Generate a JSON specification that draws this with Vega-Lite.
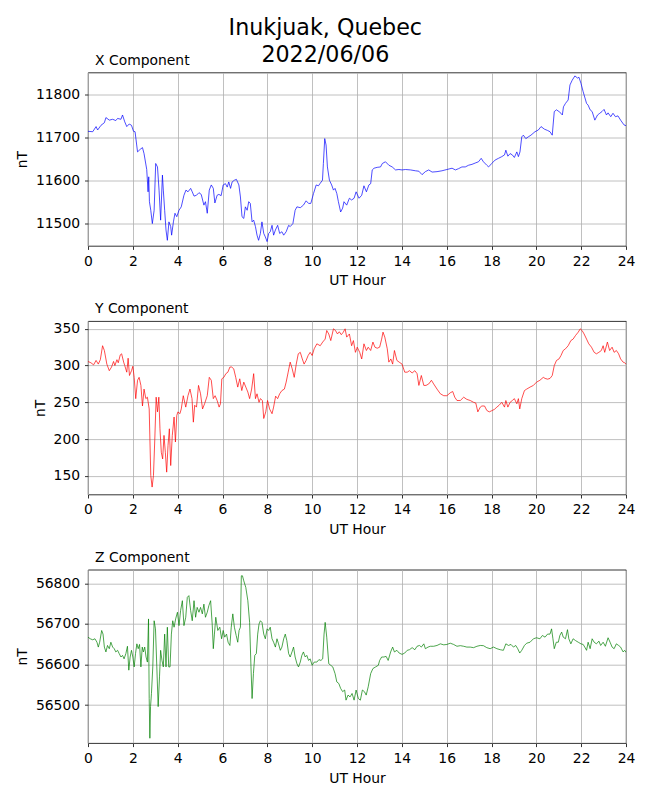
{
  "$schema": "https://vega.github.io/schema/vega-lite/v6.json",
  "description": "Inukjuak magnetometer X, Y, Z components for 2022/06/06.",
  "padding": {"left": 15, "top": 16.5, "right": 5, "bottom": 5},
  "bounds": "flush",
  "spacing": 74.6,
  "title": {
    "text": ["Inukjuak, Quebec", "2022/06/06"],
    "fontSize": 22.2,
    "fontWeight": "normal",
    "lineHeight": 26.7,
    "anchor": "middle",
    "frame": "bounds",
    "dx": 0,
    "offset": -13
  },
  "datasets": {
    "x": [
      {"h": 0, "v": 11714}, {"h": 0.21, "v": 11713}, {"h": 0.36, "v": 11725}, {"h": 0.43, "v": 11717},
      {"h": 0.58, "v": 11728}, {"h": 0.73, "v": 11734}, {"h": 0.8, "v": 11746}, {"h": 0.95, "v": 11740},
      {"h": 1.1, "v": 11742}, {"h": 1.24, "v": 11739}, {"h": 1.32, "v": 11744}, {"h": 1.47, "v": 11742},
      {"h": 1.54, "v": 11752}, {"h": 1.64, "v": 11736}, {"h": 1.73, "v": 11725}, {"h": 1.84, "v": 11731},
      {"h": 1.94, "v": 11728}, {"h": 2.03, "v": 11714}, {"h": 2.1, "v": 11713}, {"h": 2.21, "v": 11666},
      {"h": 2.33, "v": 11672}, {"h": 2.43, "v": 11676}, {"h": 2.5, "v": 11662}, {"h": 2.62, "v": 11625},
      {"h": 2.68, "v": 11573}, {"h": 2.71, "v": 11608}, {"h": 2.74, "v": 11550}, {"h": 2.8, "v": 11530},
      {"h": 2.87, "v": 11499}, {"h": 2.95, "v": 11530}, {"h": 3.02, "v": 11639}, {"h": 3.1, "v": 11631},
      {"h": 3.17, "v": 11577}, {"h": 3.24, "v": 11507}, {"h": 3.32, "v": 11612}, {"h": 3.36, "v": 11577},
      {"h": 3.42, "v": 11530}, {"h": 3.48, "v": 11484}, {"h": 3.54, "v": 11460}, {"h": 3.61, "v": 11503},
      {"h": 3.69, "v": 11492}, {"h": 3.73, "v": 11472}, {"h": 3.81, "v": 11503}, {"h": 3.88, "v": 11523},
      {"h": 3.96, "v": 11515}, {"h": 4.06, "v": 11530}, {"h": 4.16, "v": 11538}, {"h": 4.28, "v": 11565},
      {"h": 4.37, "v": 11577}, {"h": 4.46, "v": 11573}, {"h": 4.58, "v": 11581}, {"h": 4.65, "v": 11573},
      {"h": 4.73, "v": 11563}, {"h": 4.84, "v": 11565}, {"h": 4.95, "v": 11571}, {"h": 5.05, "v": 11567},
      {"h": 5.17, "v": 11542}, {"h": 5.24, "v": 11550}, {"h": 5.32, "v": 11523}, {"h": 5.41, "v": 11577},
      {"h": 5.5, "v": 11589}, {"h": 5.59, "v": 11581}, {"h": 5.66, "v": 11547}, {"h": 5.76, "v": 11565},
      {"h": 5.84, "v": 11567}, {"h": 5.94, "v": 11564}, {"h": 6.03, "v": 11589}, {"h": 6.13, "v": 11592},
      {"h": 6.21, "v": 11584}, {"h": 6.28, "v": 11596}, {"h": 6.36, "v": 11581}, {"h": 6.43, "v": 11596},
      {"h": 6.53, "v": 11600}, {"h": 6.62, "v": 11602}, {"h": 6.73, "v": 11589}, {"h": 6.8, "v": 11561},
      {"h": 6.87, "v": 11515}, {"h": 6.95, "v": 11511}, {"h": 7.02, "v": 11538}, {"h": 7.1, "v": 11530},
      {"h": 7.17, "v": 11550}, {"h": 7.24, "v": 11546}, {"h": 7.32, "v": 11503}, {"h": 7.39, "v": 11507},
      {"h": 7.47, "v": 11492}, {"h": 7.54, "v": 11472}, {"h": 7.61, "v": 11460}, {"h": 7.69, "v": 11476},
      {"h": 7.76, "v": 11503}, {"h": 7.84, "v": 11476}, {"h": 7.91, "v": 11468}, {"h": 7.99, "v": 11457},
      {"h": 8.06, "v": 11476}, {"h": 8.13, "v": 11480}, {"h": 8.21, "v": 11495}, {"h": 8.28, "v": 11472},
      {"h": 8.36, "v": 11484}, {"h": 8.46, "v": 11495}, {"h": 8.55, "v": 11476}, {"h": 8.65, "v": 11480},
      {"h": 8.73, "v": 11472}, {"h": 8.84, "v": 11480}, {"h": 8.95, "v": 11495}, {"h": 9.02, "v": 11492},
      {"h": 9.14, "v": 11499}, {"h": 9.24, "v": 11530}, {"h": 9.32, "v": 11538}, {"h": 9.47, "v": 11536},
      {"h": 9.61, "v": 11542}, {"h": 9.73, "v": 11552}, {"h": 9.84, "v": 11546}, {"h": 9.94, "v": 11546},
      {"h": 10.06, "v": 11569}, {"h": 10.18, "v": 11589}, {"h": 10.28, "v": 11587}, {"h": 10.36, "v": 11593},
      {"h": 10.46, "v": 11600}, {"h": 10.5, "v": 11639}, {"h": 10.56, "v": 11697}, {"h": 10.62, "v": 11682},
      {"h": 10.68, "v": 11631}, {"h": 10.77, "v": 11600}, {"h": 10.87, "v": 11589}, {"h": 10.95, "v": 11577},
      {"h": 11.02, "v": 11581}, {"h": 11.1, "v": 11569}, {"h": 11.17, "v": 11550}, {"h": 11.27, "v": 11526},
      {"h": 11.36, "v": 11535}, {"h": 11.42, "v": 11550}, {"h": 11.54, "v": 11542}, {"h": 11.66, "v": 11558},
      {"h": 11.76, "v": 11554}, {"h": 11.87, "v": 11558}, {"h": 11.96, "v": 11573}, {"h": 12.09, "v": 11558},
      {"h": 12.21, "v": 11565}, {"h": 12.31, "v": 11587}, {"h": 12.42, "v": 11573}, {"h": 12.53, "v": 11589},
      {"h": 12.61, "v": 11592}, {"h": 12.68, "v": 11624}, {"h": 12.76, "v": 11628}, {"h": 12.9, "v": 11630},
      {"h": 13.05, "v": 11631}, {"h": 13.13, "v": 11639}, {"h": 13.27, "v": 11643}, {"h": 13.42, "v": 11635},
      {"h": 13.57, "v": 11631}, {"h": 13.72, "v": 11624}, {"h": 13.87, "v": 11625}, {"h": 14.01, "v": 11624},
      {"h": 14.16, "v": 11625}, {"h": 14.39, "v": 11624}, {"h": 14.61, "v": 11622}, {"h": 14.76, "v": 11621},
      {"h": 14.9, "v": 11613}, {"h": 15.05, "v": 11620}, {"h": 15.2, "v": 11624}, {"h": 15.35, "v": 11619},
      {"h": 15.57, "v": 11620}, {"h": 15.79, "v": 11622}, {"h": 16.01, "v": 11625}, {"h": 16.24, "v": 11628},
      {"h": 16.39, "v": 11624}, {"h": 16.53, "v": 11627}, {"h": 16.68, "v": 11631}, {"h": 16.83, "v": 11631},
      {"h": 16.98, "v": 11635}, {"h": 17.13, "v": 11637}, {"h": 17.27, "v": 11640}, {"h": 17.42, "v": 11643},
      {"h": 17.54, "v": 11651}, {"h": 17.64, "v": 11643}, {"h": 17.79, "v": 11635}, {"h": 17.87, "v": 11631},
      {"h": 18.01, "v": 11639}, {"h": 18.16, "v": 11647}, {"h": 18.31, "v": 11651}, {"h": 18.46, "v": 11655},
      {"h": 18.58, "v": 11659}, {"h": 18.64, "v": 11670}, {"h": 18.73, "v": 11656}, {"h": 18.83, "v": 11662},
      {"h": 18.93, "v": 11659}, {"h": 19.02, "v": 11653}, {"h": 19.13, "v": 11666}, {"h": 19.2, "v": 11655},
      {"h": 19.27, "v": 11666}, {"h": 19.35, "v": 11701}, {"h": 19.42, "v": 11705}, {"h": 19.53, "v": 11697},
      {"h": 19.64, "v": 11701}, {"h": 19.76, "v": 11705}, {"h": 19.94, "v": 11713}, {"h": 20.09, "v": 11717},
      {"h": 20.21, "v": 11725}, {"h": 20.36, "v": 11719}, {"h": 20.5, "v": 11716}, {"h": 20.61, "v": 11713},
      {"h": 20.71, "v": 11705}, {"h": 20.8, "v": 11760}, {"h": 20.9, "v": 11764}, {"h": 21.01, "v": 11760},
      {"h": 21.1, "v": 11756}, {"h": 21.16, "v": 11752}, {"h": 21.21, "v": 11771}, {"h": 21.3, "v": 11779},
      {"h": 21.42, "v": 11787}, {"h": 21.5, "v": 11822}, {"h": 21.6, "v": 11833}, {"h": 21.72, "v": 11843},
      {"h": 21.84, "v": 11838}, {"h": 21.9, "v": 11840}, {"h": 21.99, "v": 11826}, {"h": 22.09, "v": 11806},
      {"h": 22.24, "v": 11779}, {"h": 22.31, "v": 11775}, {"h": 22.4, "v": 11764}, {"h": 22.49, "v": 11760},
      {"h": 22.61, "v": 11740}, {"h": 22.73, "v": 11752}, {"h": 22.83, "v": 11756}, {"h": 22.93, "v": 11760},
      {"h": 23.02, "v": 11765}, {"h": 23.13, "v": 11752}, {"h": 23.2, "v": 11757}, {"h": 23.32, "v": 11748},
      {"h": 23.42, "v": 11756}, {"h": 23.53, "v": 11748}, {"h": 23.64, "v": 11750}, {"h": 23.76, "v": 11740},
      {"h": 23.91, "v": 11729}, {"h": 24, "v": 11727}
    ],
    "y": [
      {"h": 0, "v": 305.6}, {"h": 0.13, "v": 303.8}, {"h": 0.25, "v": 301}, {"h": 0.36, "v": 307},
      {"h": 0.46, "v": 302}, {"h": 0.55, "v": 308}, {"h": 0.65, "v": 327}, {"h": 0.73, "v": 320.5},
      {"h": 0.84, "v": 302}, {"h": 0.95, "v": 293}, {"h": 1.05, "v": 298}, {"h": 1.14, "v": 305.6},
      {"h": 1.2, "v": 300}, {"h": 1.29, "v": 308}, {"h": 1.35, "v": 303.8}, {"h": 1.44, "v": 314.6},
      {"h": 1.5, "v": 316}, {"h": 1.59, "v": 304.7}, {"h": 1.64, "v": 300}, {"h": 1.73, "v": 291},
      {"h": 1.79, "v": 310}, {"h": 1.85, "v": 286.5}, {"h": 1.94, "v": 293}, {"h": 2.0, "v": 299},
      {"h": 2.06, "v": 284}, {"h": 2.13, "v": 255}, {"h": 2.21, "v": 280}, {"h": 2.28, "v": 284},
      {"h": 2.36, "v": 273}, {"h": 2.43, "v": 245}, {"h": 2.5, "v": 268}, {"h": 2.58, "v": 255},
      {"h": 2.65, "v": 257}, {"h": 2.73, "v": 241}, {"h": 2.8, "v": 150.5}, {"h": 2.86, "v": 134.7},
      {"h": 2.92, "v": 150.5}, {"h": 2.98, "v": 200}, {"h": 3.04, "v": 257}, {"h": 3.1, "v": 237},
      {"h": 3.16, "v": 257}, {"h": 3.21, "v": 214}, {"h": 3.27, "v": 182}, {"h": 3.33, "v": 173},
      {"h": 3.39, "v": 205}, {"h": 3.45, "v": 182}, {"h": 3.51, "v": 155}, {"h": 3.57, "v": 191.5},
      {"h": 3.63, "v": 214}, {"h": 3.69, "v": 164}, {"h": 3.76, "v": 205}, {"h": 3.84, "v": 230},
      {"h": 3.9, "v": 196}, {"h": 3.96, "v": 232}, {"h": 4.01, "v": 237}, {"h": 4.1, "v": 234.5},
      {"h": 4.16, "v": 241}, {"h": 4.25, "v": 259}, {"h": 4.36, "v": 243.5}, {"h": 4.46, "v": 259},
      {"h": 4.55, "v": 268}, {"h": 4.64, "v": 255}, {"h": 4.7, "v": 223}, {"h": 4.76, "v": 246},
      {"h": 4.84, "v": 243.5}, {"h": 4.93, "v": 273}, {"h": 5.02, "v": 261.6}, {"h": 5.11, "v": 241},
      {"h": 5.2, "v": 248}, {"h": 5.32, "v": 259}, {"h": 5.41, "v": 284}, {"h": 5.5, "v": 280},
      {"h": 5.59, "v": 255}, {"h": 5.67, "v": 259}, {"h": 5.76, "v": 252.5}, {"h": 5.85, "v": 243.5},
      {"h": 5.91, "v": 248}, {"h": 5.97, "v": 282}, {"h": 6.06, "v": 284}, {"h": 6.15, "v": 289},
      {"h": 6.24, "v": 291}, {"h": 6.33, "v": 298}, {"h": 6.41, "v": 298}, {"h": 6.5, "v": 295.6},
      {"h": 6.59, "v": 284}, {"h": 6.68, "v": 270.7}, {"h": 6.77, "v": 282}, {"h": 6.86, "v": 266},
      {"h": 6.95, "v": 277.5}, {"h": 7.04, "v": 270.7}, {"h": 7.13, "v": 264}, {"h": 7.21, "v": 255},
      {"h": 7.3, "v": 268}, {"h": 7.39, "v": 289}, {"h": 7.47, "v": 255}, {"h": 7.54, "v": 261.6},
      {"h": 7.63, "v": 250}, {"h": 7.69, "v": 255}, {"h": 7.78, "v": 252.5}, {"h": 7.84, "v": 228},
      {"h": 7.93, "v": 237}, {"h": 8.01, "v": 252.5}, {"h": 8.1, "v": 241}, {"h": 8.21, "v": 234.5},
      {"h": 8.28, "v": 243.5}, {"h": 8.37, "v": 258.4}, {"h": 8.46, "v": 255}, {"h": 8.55, "v": 261.6},
      {"h": 8.65, "v": 266}, {"h": 8.76, "v": 268}, {"h": 8.84, "v": 277.5}, {"h": 8.93, "v": 291},
      {"h": 9.02, "v": 304.7}, {"h": 9.11, "v": 295.6}, {"h": 9.2, "v": 284}, {"h": 9.29, "v": 302},
      {"h": 9.38, "v": 316}, {"h": 9.47, "v": 318}, {"h": 9.56, "v": 309}, {"h": 9.64, "v": 302},
      {"h": 9.73, "v": 307}, {"h": 9.82, "v": 313.7}, {"h": 9.91, "v": 318}, {"h": 10.0, "v": 313.7},
      {"h": 10.09, "v": 322.8}, {"h": 10.21, "v": 329.6}, {"h": 10.36, "v": 327}, {"h": 10.47, "v": 332},
      {"h": 10.58, "v": 336}, {"h": 10.65, "v": 347.7}, {"h": 10.74, "v": 343}, {"h": 10.83, "v": 334},
      {"h": 10.95, "v": 350}, {"h": 11.04, "v": 347.7}, {"h": 11.13, "v": 343}, {"h": 11.21, "v": 346},
      {"h": 11.3, "v": 342}, {"h": 11.39, "v": 345.5}, {"h": 11.47, "v": 350}, {"h": 11.54, "v": 338.7},
      {"h": 11.66, "v": 343}, {"h": 11.76, "v": 327}, {"h": 11.84, "v": 334}, {"h": 11.93, "v": 318},
      {"h": 11.99, "v": 322.8}, {"h": 12.01, "v": 325}, {"h": 12.12, "v": 318}, {"h": 12.21, "v": 309},
      {"h": 12.31, "v": 329.6}, {"h": 12.42, "v": 320.5}, {"h": 12.5, "v": 325}, {"h": 12.61, "v": 320.5},
      {"h": 12.71, "v": 332}, {"h": 12.8, "v": 325}, {"h": 12.9, "v": 323.6}, {"h": 13.01, "v": 325},
      {"h": 13.1, "v": 336}, {"h": 13.16, "v": 345.5}, {"h": 13.24, "v": 338.7}, {"h": 13.35, "v": 322.8},
      {"h": 13.42, "v": 304.7}, {"h": 13.51, "v": 309}, {"h": 13.59, "v": 302}, {"h": 13.67, "v": 320.5},
      {"h": 13.78, "v": 307}, {"h": 13.88, "v": 304.7}, {"h": 14.01, "v": 302}, {"h": 14.13, "v": 291},
      {"h": 14.24, "v": 291}, {"h": 14.34, "v": 293}, {"h": 14.46, "v": 290}, {"h": 14.58, "v": 293},
      {"h": 14.68, "v": 289}, {"h": 14.76, "v": 273}, {"h": 14.87, "v": 286.5}, {"h": 14.98, "v": 273},
      {"h": 15.08, "v": 273}, {"h": 15.2, "v": 275}, {"h": 15.32, "v": 280}, {"h": 15.42, "v": 275},
      {"h": 15.57, "v": 268}, {"h": 15.72, "v": 261.6}, {"h": 15.87, "v": 259}, {"h": 16.01, "v": 259},
      {"h": 16.16, "v": 263}, {"h": 16.27, "v": 264.7}, {"h": 16.36, "v": 257}, {"h": 16.46, "v": 252.5},
      {"h": 16.61, "v": 252.5}, {"h": 16.76, "v": 257}, {"h": 16.9, "v": 254}, {"h": 17.05, "v": 252.5},
      {"h": 17.2, "v": 250}, {"h": 17.3, "v": 249}, {"h": 17.39, "v": 237}, {"h": 17.5, "v": 243.5},
      {"h": 17.57, "v": 245}, {"h": 17.69, "v": 245}, {"h": 17.79, "v": 239}, {"h": 17.9, "v": 237},
      {"h": 18.01, "v": 238.6}, {"h": 18.13, "v": 240.4}, {"h": 18.24, "v": 243.5}, {"h": 18.34, "v": 246},
      {"h": 18.46, "v": 250}, {"h": 18.58, "v": 243.5}, {"h": 18.64, "v": 252.5}, {"h": 18.73, "v": 243.5},
      {"h": 18.83, "v": 250}, {"h": 18.93, "v": 252.5}, {"h": 19.02, "v": 255}, {"h": 19.13, "v": 248},
      {"h": 19.2, "v": 255}, {"h": 19.26, "v": 241}, {"h": 19.35, "v": 255}, {"h": 19.47, "v": 266},
      {"h": 19.57, "v": 268}, {"h": 19.72, "v": 270.7}, {"h": 19.87, "v": 273}, {"h": 20.01, "v": 277.5},
      {"h": 20.16, "v": 280}, {"h": 20.31, "v": 284}, {"h": 20.39, "v": 282.5}, {"h": 20.5, "v": 281.5},
      {"h": 20.61, "v": 282.5}, {"h": 20.71, "v": 286.5}, {"h": 20.8, "v": 300}, {"h": 20.9, "v": 307},
      {"h": 21.01, "v": 309}, {"h": 21.1, "v": 313.7}, {"h": 21.2, "v": 320.5}, {"h": 21.3, "v": 322.8},
      {"h": 21.42, "v": 327}, {"h": 21.54, "v": 334}, {"h": 21.64, "v": 336}, {"h": 21.75, "v": 341},
      {"h": 21.87, "v": 345.5}, {"h": 21.96, "v": 350}, {"h": 22.04, "v": 347.7}, {"h": 22.13, "v": 343},
      {"h": 22.24, "v": 336}, {"h": 22.34, "v": 329.6}, {"h": 22.46, "v": 325}, {"h": 22.58, "v": 318},
      {"h": 22.68, "v": 316}, {"h": 22.79, "v": 318}, {"h": 22.9, "v": 320.5}, {"h": 22.98, "v": 327},
      {"h": 23.05, "v": 318}, {"h": 23.17, "v": 332}, {"h": 23.27, "v": 320.5}, {"h": 23.38, "v": 325},
      {"h": 23.47, "v": 318}, {"h": 23.57, "v": 320.5}, {"h": 23.67, "v": 316}, {"h": 23.76, "v": 309},
      {"h": 23.87, "v": 304.7}, {"h": 23.94, "v": 303.8}, {"h": 24, "v": 302}
    ],
    "z": [
      {"h": 0, "v": 56667.5}, {"h": 0.1, "v": 56663.5}, {"h": 0.21, "v": 56661}, {"h": 0.31, "v": 56663.5},
      {"h": 0.4, "v": 56655}, {"h": 0.46, "v": 56643}, {"h": 0.52, "v": 56655}, {"h": 0.61, "v": 56684},
      {"h": 0.67, "v": 56675}, {"h": 0.73, "v": 56643}, {"h": 0.8, "v": 56631}, {"h": 0.87, "v": 56647},
      {"h": 0.95, "v": 56639}, {"h": 1.02, "v": 56655}, {"h": 1.1, "v": 56643}, {"h": 1.17, "v": 56639},
      {"h": 1.24, "v": 56631}, {"h": 1.32, "v": 56635}, {"h": 1.39, "v": 56627}, {"h": 1.47, "v": 56618.5},
      {"h": 1.54, "v": 56622.5}, {"h": 1.61, "v": 56614}, {"h": 1.69, "v": 56627}, {"h": 1.76, "v": 56645},
      {"h": 1.82, "v": 56586}, {"h": 1.88, "v": 56618.5}, {"h": 1.94, "v": 56635}, {"h": 2.0, "v": 56618.5},
      {"h": 2.06, "v": 56594}, {"h": 2.12, "v": 56627}, {"h": 2.18, "v": 56651}, {"h": 2.24, "v": 56639},
      {"h": 2.3, "v": 56649.5}, {"h": 2.36, "v": 56594}, {"h": 2.42, "v": 56643}, {"h": 2.47, "v": 56631},
      {"h": 2.53, "v": 56643}, {"h": 2.59, "v": 56618.5}, {"h": 2.65, "v": 56606}, {"h": 2.7, "v": 56712.5},
      {"h": 2.73, "v": 56516}, {"h": 2.76, "v": 56418}, {"h": 2.79, "v": 56496}, {"h": 2.83, "v": 56528},
      {"h": 2.89, "v": 56594}, {"h": 2.95, "v": 56708}, {"h": 3.01, "v": 56688}, {"h": 3.07, "v": 56594},
      {"h": 3.13, "v": 56496}, {"h": 3.19, "v": 56569.5}, {"h": 3.24, "v": 56635}, {"h": 3.3, "v": 56610},
      {"h": 3.36, "v": 56594}, {"h": 3.42, "v": 56675}, {"h": 3.48, "v": 56594}, {"h": 3.54, "v": 56692},
      {"h": 3.6, "v": 56594}, {"h": 3.66, "v": 56594}, {"h": 3.72, "v": 56675}, {"h": 3.78, "v": 56708},
      {"h": 3.84, "v": 56692}, {"h": 3.91, "v": 56712.5}, {"h": 3.99, "v": 56729}, {"h": 4.06, "v": 56696},
      {"h": 4.13, "v": 56733}, {"h": 4.21, "v": 56757.5}, {"h": 4.28, "v": 56696}, {"h": 4.36, "v": 56716.6},
      {"h": 4.43, "v": 56765.7}, {"h": 4.5, "v": 56770}, {"h": 4.58, "v": 56733}, {"h": 4.65, "v": 56708},
      {"h": 4.73, "v": 56757.5}, {"h": 4.8, "v": 56716.6}, {"h": 4.87, "v": 56741}, {"h": 4.95, "v": 56729},
      {"h": 5.02, "v": 56741}, {"h": 5.1, "v": 56725}, {"h": 5.17, "v": 56749}, {"h": 5.24, "v": 56716.6},
      {"h": 5.32, "v": 56729}, {"h": 5.39, "v": 56745}, {"h": 5.47, "v": 56757.5}, {"h": 5.54, "v": 56700},
      {"h": 5.59, "v": 56639}, {"h": 5.64, "v": 56675}, {"h": 5.7, "v": 56716.6}, {"h": 5.79, "v": 56684},
      {"h": 5.88, "v": 56692}, {"h": 5.96, "v": 56663.5}, {"h": 6.03, "v": 56684}, {"h": 6.1, "v": 56667.5},
      {"h": 6.18, "v": 56675}, {"h": 6.25, "v": 56655}, {"h": 6.33, "v": 56647}, {"h": 6.39, "v": 56692},
      {"h": 6.46, "v": 56725}, {"h": 6.53, "v": 56692}, {"h": 6.61, "v": 56671.6}, {"h": 6.68, "v": 56655},
      {"h": 6.74, "v": 56684}, {"h": 6.8, "v": 56692}, {"h": 6.84, "v": 56819}, {"h": 6.89, "v": 56819},
      {"h": 6.95, "v": 56806.5}, {"h": 7.04, "v": 56790}, {"h": 7.13, "v": 56757.5}, {"h": 7.21, "v": 56704},
      {"h": 7.27, "v": 56594}, {"h": 7.32, "v": 56516}, {"h": 7.38, "v": 56577.6}, {"h": 7.44, "v": 56622.5},
      {"h": 7.51, "v": 56627}, {"h": 7.57, "v": 56675}, {"h": 7.63, "v": 56700}, {"h": 7.69, "v": 56708},
      {"h": 7.76, "v": 56704}, {"h": 7.84, "v": 56675}, {"h": 7.91, "v": 56663.5}, {"h": 7.99, "v": 56688},
      {"h": 8.06, "v": 56684}, {"h": 8.13, "v": 56692}, {"h": 8.21, "v": 56663.5}, {"h": 8.28, "v": 56655},
      {"h": 8.36, "v": 56643}, {"h": 8.43, "v": 56663.5}, {"h": 8.5, "v": 56651}, {"h": 8.58, "v": 56635},
      {"h": 8.65, "v": 56643}, {"h": 8.73, "v": 56663.5}, {"h": 8.8, "v": 56675}, {"h": 8.87, "v": 56659},
      {"h": 8.95, "v": 56627}, {"h": 9.02, "v": 56618.5}, {"h": 9.1, "v": 56631}, {"h": 9.17, "v": 56643},
      {"h": 9.24, "v": 56618.5}, {"h": 9.32, "v": 56602}, {"h": 9.39, "v": 56594}, {"h": 9.47, "v": 56606},
      {"h": 9.54, "v": 56622.5}, {"h": 9.61, "v": 56631}, {"h": 9.69, "v": 56618.5}, {"h": 9.76, "v": 56622.5},
      {"h": 9.84, "v": 56610}, {"h": 9.91, "v": 56614}, {"h": 10.0, "v": 56598}, {"h": 10.09, "v": 56606},
      {"h": 10.21, "v": 56606}, {"h": 10.3, "v": 56612}, {"h": 10.39, "v": 56610}, {"h": 10.47, "v": 56614},
      {"h": 10.53, "v": 56675}, {"h": 10.58, "v": 56704}, {"h": 10.65, "v": 56667.5}, {"h": 10.74, "v": 56602},
      {"h": 10.83, "v": 56598}, {"h": 10.92, "v": 56594}, {"h": 11.02, "v": 56577.6}, {"h": 11.1, "v": 56557},
      {"h": 11.19, "v": 56553}, {"h": 11.27, "v": 56541}, {"h": 11.36, "v": 56533}, {"h": 11.45, "v": 56537},
      {"h": 11.51, "v": 56512}, {"h": 11.6, "v": 56524.5}, {"h": 11.69, "v": 56520}, {"h": 11.78, "v": 56528.5},
      {"h": 11.87, "v": 56512}, {"h": 11.96, "v": 56537}, {"h": 12.06, "v": 56516}, {"h": 12.15, "v": 56512},
      {"h": 12.24, "v": 56537}, {"h": 12.33, "v": 56533}, {"h": 12.41, "v": 56524.5}, {"h": 12.5, "v": 56545},
      {"h": 12.61, "v": 56577.6}, {"h": 12.71, "v": 56590}, {"h": 12.83, "v": 56594}, {"h": 12.95, "v": 56598},
      {"h": 13.01, "v": 56610}, {"h": 13.1, "v": 56618.5}, {"h": 13.2, "v": 56618.5}, {"h": 13.3, "v": 56620},
      {"h": 13.39, "v": 56610}, {"h": 13.5, "v": 56631}, {"h": 13.59, "v": 56643}, {"h": 13.67, "v": 56631},
      {"h": 13.78, "v": 56635}, {"h": 13.88, "v": 56628.3}, {"h": 14.01, "v": 56625}, {"h": 14.13, "v": 56628.3},
      {"h": 14.24, "v": 56635}, {"h": 14.34, "v": 56636.5}, {"h": 14.46, "v": 56641.6}, {"h": 14.58, "v": 56636.5},
      {"h": 14.68, "v": 56645}, {"h": 14.79, "v": 56647}, {"h": 14.87, "v": 56643}, {"h": 14.98, "v": 56651},
      {"h": 15.05, "v": 56639}, {"h": 15.17, "v": 56643}, {"h": 15.27, "v": 56645}, {"h": 15.42, "v": 56645},
      {"h": 15.57, "v": 56647}, {"h": 15.72, "v": 56651}, {"h": 15.87, "v": 56648.5}, {"h": 16.01, "v": 56649.5},
      {"h": 16.16, "v": 56652.6}, {"h": 16.31, "v": 56649.5}, {"h": 16.46, "v": 56645}, {"h": 16.61, "v": 56646.5},
      {"h": 16.76, "v": 56645}, {"h": 16.9, "v": 56643}, {"h": 17.05, "v": 56643}, {"h": 17.2, "v": 56641.6},
      {"h": 17.35, "v": 56645}, {"h": 17.5, "v": 56647}, {"h": 17.64, "v": 56646.5}, {"h": 17.79, "v": 56641.6},
      {"h": 17.94, "v": 56639}, {"h": 18.09, "v": 56643}, {"h": 18.24, "v": 56639}, {"h": 18.39, "v": 56636.5},
      {"h": 18.53, "v": 56635}, {"h": 18.64, "v": 56651}, {"h": 18.76, "v": 56647}, {"h": 18.87, "v": 56649.5},
      {"h": 18.98, "v": 56643}, {"h": 19.08, "v": 56647}, {"h": 19.17, "v": 56639}, {"h": 19.26, "v": 56628.3},
      {"h": 19.35, "v": 56635}, {"h": 19.47, "v": 56647}, {"h": 19.57, "v": 56652.6}, {"h": 19.72, "v": 56655},
      {"h": 19.87, "v": 56663.5}, {"h": 20.01, "v": 56666}, {"h": 20.16, "v": 56663.5}, {"h": 20.27, "v": 56671.6},
      {"h": 20.39, "v": 56667.5}, {"h": 20.5, "v": 56675}, {"h": 20.61, "v": 56675}, {"h": 20.68, "v": 56688},
      {"h": 20.74, "v": 56663.5}, {"h": 20.8, "v": 56639}, {"h": 20.89, "v": 56655}, {"h": 20.98, "v": 56655},
      {"h": 21.05, "v": 56671.6}, {"h": 21.13, "v": 56680}, {"h": 21.2, "v": 56667.5}, {"h": 21.3, "v": 56663.5},
      {"h": 21.39, "v": 56686}, {"h": 21.45, "v": 56663.5}, {"h": 21.54, "v": 56651}, {"h": 21.64, "v": 56663.5},
      {"h": 21.75, "v": 56659}, {"h": 21.87, "v": 56655}, {"h": 21.99, "v": 56651}, {"h": 22.09, "v": 56649.5},
      {"h": 22.16, "v": 56643}, {"h": 22.24, "v": 56635}, {"h": 22.31, "v": 56655}, {"h": 22.4, "v": 56639},
      {"h": 22.49, "v": 56663.5}, {"h": 22.58, "v": 56655}, {"h": 22.68, "v": 56651}, {"h": 22.79, "v": 56657.7},
      {"h": 22.87, "v": 56647}, {"h": 22.98, "v": 56655}, {"h": 23.08, "v": 56645}, {"h": 23.2, "v": 56666},
      {"h": 23.29, "v": 56655}, {"h": 23.38, "v": 56643}, {"h": 23.47, "v": 56639}, {"h": 23.57, "v": 56651},
      {"h": 23.67, "v": 56647}, {"h": 23.76, "v": 56643}, {"h": 23.87, "v": 56631}, {"h": 23.94, "v": 56635},
      {"h": 24, "v": 56630}
    ]
  },
  "vconcat": [
    {
      "width": 538,
      "height": 173.4,
      "title": {"text": "X Component"},
      "data": {"name": "x"},
      "mark": {"type": "line", "color": "#0000ff", "strokeWidth": 0.7, "clip": true},
      "encoding": {
        "x": {"field": "h", "type": "quantitative", "title": "UT Hour",
              "scale": {"domain": [0, 24], "nice": false, "zero": false}},
        "y": {"field": "v", "type": "quantitative", "title": "nT",
              "scale": {"domain": [11447, 11851], "nice": false, "zero": false},
              "axis": {"values": [11500, 11600, 11700, 11800]}}
      }
    },
    {
      "width": 538,
      "height": 173.4,
      "title": {"text": "Y Component"},
      "data": {"name": "y"},
      "mark": {"type": "line", "color": "#ff0000", "strokeWidth": 0.7, "clip": true},
      "encoding": {
        "x": {"field": "h", "type": "quantitative", "title": "UT Hour",
              "scale": {"domain": [0, 24], "nice": false, "zero": false}},
        "y": {"field": "v", "type": "quantitative", "title": "nT",
              "scale": {"domain": [124.6, 360.5], "nice": false, "zero": false},
              "axis": {"values": [150, 200, 250, 300, 350]}}
      }
    },
    {
      "width": 538,
      "height": 173.4,
      "title": {"text": "Z Component"},
      "data": {"name": "z"},
      "mark": {"type": "line", "color": "#008000", "strokeWidth": 0.7, "clip": true},
      "encoding": {
        "x": {"field": "h", "type": "quantitative", "title": "UT Hour",
              "scale": {"domain": [0, 24], "nice": false, "zero": false}},
        "y": {"field": "v", "type": "quantitative", "title": "nT",
              "scale": {"domain": [56406, 56834], "nice": false, "zero": false},
              "axis": {"values": [56500, 56600, 56700, 56800]}}
      }
    }
  ],
  "config": {
    "font": "DejaVu Sans",
    "background": "white",
    "view": {"stroke": "black", "strokeWidth": 0.8},
    "title": {"fontSize": 13.9, "fontWeight": "normal", "color": "black", "anchor": "start", "frame": "group", "dx": 7, "offset": 5},
    "axis": {
      "domain": false,
      "grid": true,
      "gridColor": "#b0b0b0",
      "gridWidth": 0.8,
      "gridOpacity": 1,
      "tickColor": "black",
      "tickWidth": 0.8,
      "tickSize": 3.5,
      "labelFontSize": 13.9,
      "labelColor": "black",
      "labelPadding": 4.9,
      "titleFontSize": 13.9,
      "titleFontWeight": "normal",
      "titleColor": "black",
      "titlePadding": 5.6
    },
    "axisX": {
      "values": [0, 1, 2, 3, 4, 5, 6, 7, 8, 9, 10, 11, 12, 13, 14, 15, 16, 17, 18, 19, 20, 21, 22, 23, 24],
      "labelExpr": "datum.value % 2 == 0 ? datum.label : ''",
      "gridOpacity": {"condition": {"test": "datum.value % 2 == 1", "value": 0}, "value": 1},
      "tickSize": {"condition": {"test": "datum.value % 2 == 1", "value": 2}, "value": 3.5},
      "labelFlush": false,
      "labelOverlap": false
    },
    "axisY": {"labelFlush": false, "format": "d"}
  }
}
